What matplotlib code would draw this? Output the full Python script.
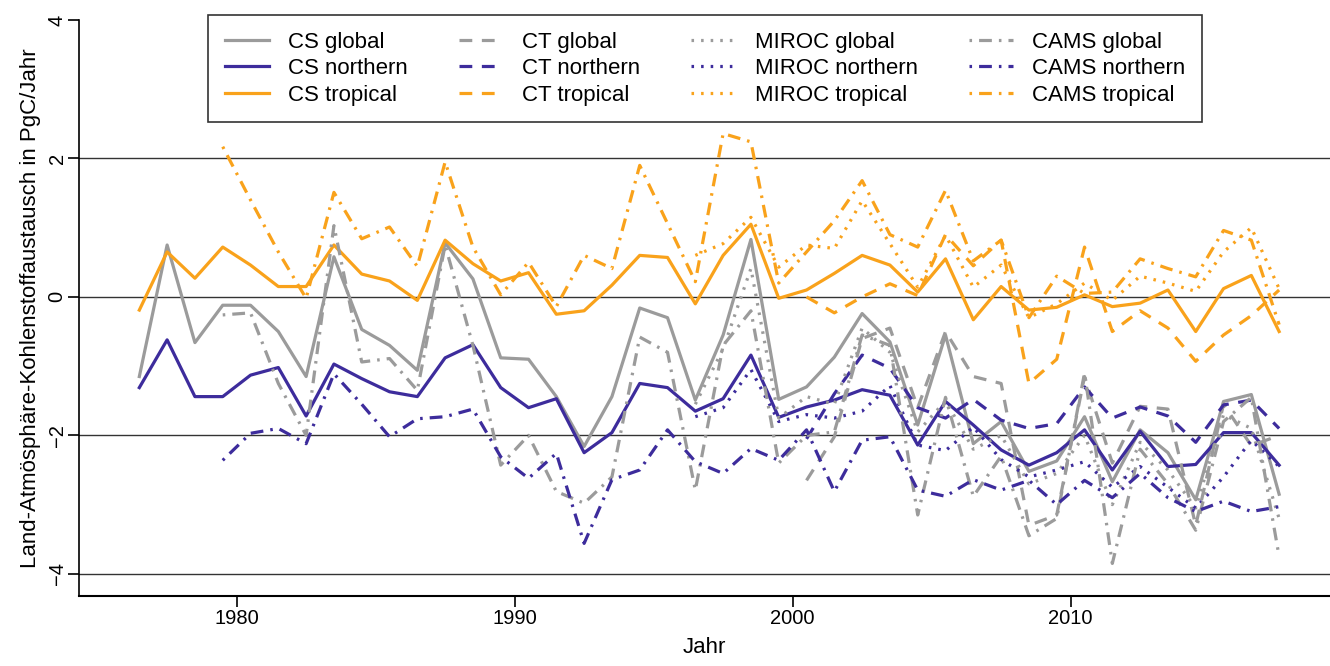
import numpy as np
import matplotlib
matplotlib.use("Agg")
from matplotlib import pyplot as plt

plt.rcParams['font.family'] = ['Liberation Sans', 'DejaVu Sans']

# years (mid-year positions)
years_cs = np.arange(1976.5, 2018, 1.0)
years_cams = np.arange(1979.5, 2018, 1.0)
years_miroc = np.arange(1996.5, 2018, 1.0)
years_ct = np.arange(2000.5, 2018, 1.0)

cs_global = [-1.15, 0.75, -0.66, -0.12, -0.12, -0.5, -1.15, 0.58, -0.47, -0.7,
             -1.06, 0.78, 0.26, -0.88, -0.9, -1.44, -2.16, -1.44, -0.16, -0.3,
             -1.49, -0.55, 0.83, -1.48, -1.3, -0.87, -0.24, -0.65, -1.85, -0.55,
             -2.12, -1.8, -2.52, -2.37, -1.73, -2.67, -1.92, -2.25, -2.93, -1.51,
             -1.41, -2.85]
cs_northern = [-1.31, -0.62, -1.44, -1.44, -1.13, -1.02, -1.72, -0.97, -1.18, -1.37,
               -1.44, -0.88, -0.69, -1.31, -1.6, -1.47, -2.25, -1.96, -1.25, -1.31,
               -1.65, -1.47, -0.84, -1.74, -1.59, -1.49, -1.34, -1.42, -2.14, -1.51,
               -1.85, -2.21, -2.43, -2.25, -1.92, -2.5, -1.94, -2.45, -2.42, -1.96,
               -1.96, -2.43]
cs_tropical = [-0.19, 0.65, 0.27, 0.72, 0.46, 0.15, 0.15, 0.75, 0.33, 0.23,
               -0.05, 0.82, 0.48, 0.23, 0.35, -0.25, -0.2, 0.17, 0.6, 0.57,
               -0.1, 0.6, 1.05, -0.02, 0.1, 0.34, 0.6, 0.46, 0.07, 0.55,
               -0.33, 0.15, -0.19, -0.15, 0.03, -0.14, -0.09, 0.1, -0.5, 0.12,
               0.31, -0.5]

ct_global = [-2.65, -2.02, -0.6, -0.45, -1.6, -0.5, -1.15, -1.25, -3.3, -3.15,
             -1.15, -2.4, -1.58, -1.62, -3.3, -1.55, -2.15, -2.0]
ct_northern = [-2.05, -1.4, -0.84, -1.03, -1.6, -1.75, -1.48, -1.78, -1.9, -1.83,
               -1.3, -1.75, -1.59, -1.72, -2.1, -1.56, -1.49, -1.9]
ct_tropical = [0.0, -0.23, 0.0, 0.19, 0.02, 0.9, 0.45, 0.82, -1.25, -0.9,
               0.72, -0.5, -0.2, -0.45, -0.93, -0.55, -0.27, 0.1]

miroc_global = [-1.55, -0.75, 0.41, -1.75, -1.44, -1.55, -0.45, -0.8, -1.95, -1.5,
                -2.2, -2.0, -2.7, -2.55, -2.0, -3.0, -2.1, -2.5, -3.05, -1.7,
                -1.9, -3.2]
miroc_northern = [-1.73, -1.6, -1.05, -1.8, -1.7, -1.75, -1.65, -1.28, -2.14, -2.22,
                  -1.88, -2.35, -2.6, -2.5, -2.38, -2.75, -2.45, -2.75, -3.05, -2.6,
                  -2.07, -2.45]
miroc_tropical = [0.6, 0.77, 1.15, 0.43, 0.75, 0.7, 1.39, 0.77, 0.14, 0.89,
                  0.14, 0.46, -0.3, -0.1, 0.2, -0.05, 0.3, 0.2, 0.08, 0.65,
                  1.0, 0.12]

cams_global = [-0.26, -0.23, -1.25, -2.0, 1.03, -0.94, -0.89, -1.35, 0.75, -0.7,
               -2.43, -2.0, -2.81, -2.98, -2.6, -0.58, -0.8, -2.79, -0.7, -0.2,
               -2.4, -2.0, -1.95, -0.55, -0.7, -3.15, -1.45, -2.88, -2.3, -3.45,
               -3.2, -1.1, -3.85, -2.2, -2.7, -3.37, -1.8, -1.45, -3.75]
cams_northern = [-2.36, -1.97, -1.9, -2.12, -1.11, -1.55, -2.02, -1.76, -1.73, -1.62,
                 -2.31, -2.62, -2.26, -3.56, -2.64, -2.5, -1.92, -2.38, -2.55, -2.19,
                 -2.36, -1.92, -2.81, -2.07, -2.02, -2.79, -2.88, -2.64, -2.79, -2.65,
                 -3.0, -2.65, -2.9, -2.55, -2.9, -3.1, -2.95, -3.1, -3.03]
cams_tropical = [2.17, 1.4, 0.65, -0.02, 1.51, 0.84, 1.01, 0.44, 1.95, 0.72,
                 0.03, 0.5, -0.14, 0.6, 0.41, 1.9, 1.06, 0.22, 2.36, 2.24,
                 0.2, 0.65, 1.1, 1.68, 0.9, 0.72, 1.54, 0.52, 0.82, -0.3,
                 0.3, 0.05, 0.07, 0.55, 0.41, 0.29, 0.96, 0.82, -0.4]

gray = '#9b9b9b'
purple = '#3d2c9c'
orange = '#f9a21b'

fig = plt.figure(figsize=(13.3, 6.66), dpi=100)
ax = fig.add_axes([79 / 1330, 70 / 666, 1251 / 1330, 576 / 666])

for yv in [-4, -2, 0, 2]:
    ax.axhline(yv, color='#333333', lw=1.0, zorder=1)

lw = 2.3
styles = {
    'CS': dict(linestyle='-'),
    'CT': dict(dashes=(4, 3)),
    'MIROC': dict(dashes=(0.8, 2.2)),
    'CAMS': dict(dashes=(0.8, 2.2, 4, 2.2)),
}

series = [
    ('CS', years_cs, cs_global, cs_northern, cs_tropical),
    ('CT', years_ct, ct_global, ct_northern, ct_tropical),
    ('MIROC', years_miroc, miroc_global, miroc_northern, miroc_tropical),
    ('CAMS', years_cams, cams_global, cams_northern, cams_tropical),
]

handles = []
for name, yrs, g, n, t in series:
    for vals, col, reg in [(g, gray, 'global'), (n, purple, 'northern'), (t, orange, 'tropical')]:
        h, = ax.plot(yrs, vals, color=col, lw=lw, label=f'{name} {reg}', zorder=2,
                     **styles[name])
        handles.append(h)

ax.set_xlim(1974.33, 2019.33)
ax.set_ylim(-4.32, 4.0)
ax.set_xticks([1980, 1990, 2000, 2010])
ax.set_yticks([-4, -2, 0, 2, 4])
ax.tick_params(axis='both', direction='out', length=8, width=1.2, labelsize=14.5, pad=1)
for lab in ax.get_yticklabels():
    lab.set_rotation(90)
    lab.set_va('center')
for s in ['top', 'right']:
    ax.spines[s].set_visible(False)
ax.spines['left'].set_linewidth(1.2)
ax.spines['bottom'].set_linewidth(1.5)

ax.set_xlabel('Jahr', fontsize=16, labelpad=7)
ax.set_ylabel('Land-Atmösphäre-Kohlenstoffaustausch in PgC/Jahr', fontsize=16, labelpad=5)

leg = ax.legend(handles=handles, ncol=4, loc='upper center',
                bbox_to_anchor=(0.5004, 1.0087), borderaxespad=0, fontsize=16,
                frameon=True, fancybox=False, edgecolor='black', handlelength=2.0,
                columnspacing=2.3, borderpad=0.75, labelspacing=0.25, handletextpad=0.85)
leg.get_frame().set_linewidth(1.2)
leg.set_zorder(5)

fig.savefig('out.png', dpi=100)
